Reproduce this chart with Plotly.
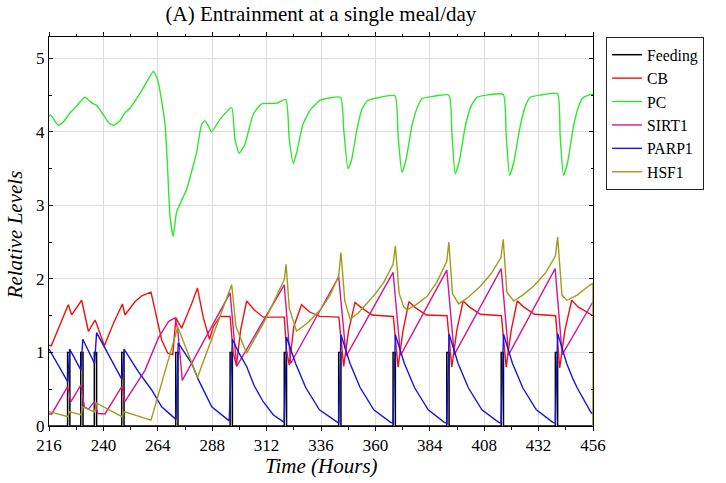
import plotly.graph_objects as go

# ---------------- data ----------------
feed_start = [224.2, 230.0, 236.0, 248.1, 271.9, 295.9, 319.8, 343.8, 367.8, 391.5, 415.5, 439.4]
feed_end = [225.2, 231.0, 237.0, 249.1, 272.9, 296.9, 320.8, 344.8, 368.8, 392.5, 416.5, 440.4]
feed_level = 1.0
t_begin, t_stop = 216, 456

cb_t = [216, 217, 224.5, 226.0, 230.4, 233.4, 236.3, 237.0, 240.4, 244.5, 248.4, 249.5, 253.9, 256.9,
        261.0, 263.5, 265.7, 268.4, 270.6, 272.0, 274.5, 279.0, 281.5, 284.1, 286.8, 288.5, 291.5,
        295.9, 297.3, 298.7, 300.5, 303.2, 306.5, 310.5, 319.8, 320.8, 322.0, 324.0, 327.4, 331.0,
        335.5, 343.9, 346.0, 348.2, 351.0, 353.8, 358.5, 367.9, 370.0, 372.2, 374.8, 377.6, 382.5,
        391.6, 393.7, 395.9, 398.7, 401.4, 406.3, 415.6, 417.7, 419.9, 422.6, 425.4, 430.2, 439.5,
        441.3, 443.6, 446.6, 449.4, 454.5, 456.0]
cb_v = [1.10, 1.09, 1.65, 1.51, 1.71, 1.285, 1.44, 1.39, 1.09, 1.40, 1.66, 1.51, 1.69, 1.77,
        1.82, 1.49, 1.17, 0.99, 0.97, 1.47, 1.33, 1.67, 1.875, 1.47, 1.18, 1.35, 1.49,
        1.49, 0.99, 0.82, 1.30, 1.70, 1.58, 1.48, 1.48, 1.02, 0.83, 1.35, 1.65, 1.55,
        1.49, 1.48, 0.81, 1.30, 1.68, 1.61, 1.51, 1.49, 0.80, 1.30, 1.69, 1.61, 1.51,
        1.50, 0.80, 1.30, 1.70, 1.62, 1.52, 1.50, 0.80, 1.30, 1.70, 1.62, 1.52, 1.50,
        0.79, 1.30, 1.71, 1.62, 1.52, 1.50]

pc_t = [216, 216.7, 220.1, 222.5, 225.3, 226.7, 229.5, 231.9, 233.5, 235.6, 237.0, 240.7, 242.5,
        244.4, 247.3, 249.5, 251.7, 256.9, 262.0, 263.0, 264.2, 265.7, 267.2, 268.2, 269.4, 270.8,
        272.3, 276.7, 281.1, 283.3, 284.8, 286.0, 287.7, 291.4, 296.6, 298.0, 299.9, 302.4, 306.1,
        309.8, 316.4, 320.5, 322.0, 323.8, 325.5, 328.0, 331.3, 335.7, 344.6, 346.0, 347.9, 349.5,
        351.9, 354.0, 356.3, 360.7, 368.6, 370.0, 371.7, 373.5, 376.1, 378.5, 380.5, 385.0, 392.4,
        393.8, 395.2, 397.0, 399.7, 402.2, 404.8, 409.2, 416.4, 417.7, 419.2, 421.0, 423.9, 426.2,
        428.3, 432.7, 440.3, 441.5, 443.0, 444.8, 447.4, 449.5, 451.1, 454.0, 456.0, 456.0]
pc_v = [4.21, 4.23, 4.09, 4.14, 4.26, 4.30, 4.40, 4.47, 4.43, 4.38, 4.36, 4.20, 4.12,
        4.09, 4.15, 4.26, 4.32, 4.56, 4.82, 4.78, 4.68, 4.42, 4.10, 3.58, 2.85, 2.58,
        2.91, 3.22, 3.72, 4.10, 4.15, 4.10, 4.00, 4.17, 4.33, 3.90, 3.71, 3.83, 4.24,
        4.38, 4.39, 4.44, 3.90, 3.57, 3.75, 4.10, 4.30, 4.43, 4.47, 4.04, 3.50, 3.62,
        4.04, 4.30, 4.42, 4.46, 4.49, 3.95, 3.45, 3.62, 4.08, 4.33, 4.45, 4.48, 4.50,
        3.95, 3.43, 3.60, 4.08, 4.35, 4.47, 4.50, 4.51, 3.95, 3.41, 3.58, 4.08, 4.35,
        4.47, 4.50, 4.52, 3.95, 3.41, 3.58, 4.08, 4.33, 4.45, 4.50, 4.51, 0.0]

sirt_t = [216, 217.2, 224.2, 225.7, 230.1, 231.6, 233.4, 236.0, 237.5, 240.7, 248.1, 249.5, 258.4,
          264.2, 268.7, 271.6, 272.8, 274.8, 295.9, 298.8, 319.8, 322.6, 343.8, 347.1, 367.8, 371.1,
          391.5, 394.8, 415.5, 418.8, 439.3, 442.4, 456.0]
sirt_v = [0.164, 0.164, 0.536, 0.33, 0.56, 0.26, 0.23, 0.33, 0.17, 0.164, 0.536, 0.33, 0.76,
          1.195, 1.42, 1.47, 1.31, 0.62, 1.81, 0.81, 1.92, 0.85, 2.03, 0.95, 2.09, 0.96,
          2.12, 0.97, 2.14, 0.97, 2.14, 0.97, 1.69]

parp_t = [216, 224.3, 225.1, 230.1, 230.9, 236.1, 237.0, 248.2, 249.1, 255.4, 261.3, 265.7, 272.0,
          273.0, 279.0, 281.9, 287.8, 295.5, 296.9, 300.0, 303.2, 306.5, 310.5, 315.0, 319.8, 320.8,
          324.8, 329.3, 335.3, 342.5, 343.8, 344.8, 348.8, 353.3, 359.3, 366.7, 367.8, 368.8, 372.8,
          377.3, 383.3, 390.4, 391.5, 392.5, 396.5, 401.0, 407.0, 414.4, 415.5, 416.5, 420.5, 425.0,
          431.0, 438.3, 439.4, 440.4, 444.4, 447.3, 449.0, 455.0, 456.0]
parp_v = [1.045, 0.60, 1.045, 0.76, 1.18, 0.85, 1.27, 0.63, 1.045, 0.74, 0.49, 0.26, 0.09,
          1.13, 0.85, 0.63, 0.26, 0.07, 1.18, 0.98, 0.81, 0.55, 0.33, 0.15, 0.05, 1.21,
          0.85, 0.52, 0.22, 0.06, 0.04, 1.24, 0.85, 0.52, 0.22, 0.05, 0.04, 1.24, 0.85,
          0.52, 0.22, 0.05, 0.04, 1.25, 0.85, 0.52, 0.22, 0.05, 0.04, 1.25, 0.85, 0.52,
          0.22, 0.05, 0.04, 1.26, 0.85, 0.63, 0.52, 0.19, 0.16]

hsf_t = [216, 224.3, 225.1, 230.1, 230.9, 236.1, 237.0, 248.2, 249.1, 261.0, 272.8, 281.5, 296.6,
         298.5, 303.2, 311.5, 319.8, 320.6, 322.0, 325.2, 330.0, 335.7, 340.0, 343.8, 344.8, 346.5,
         348.9, 352.5, 356.3, 360.0, 363.6, 367.8, 368.8, 370.5, 372.5, 374.0, 378.0, 382.7, 387.0,
         391.5, 392.4, 394.0, 396.7, 401.0, 406.3, 411.0, 415.4, 416.4, 418.0, 421.0, 425.0, 429.8,
         435.0, 439.4, 440.4, 442.3, 444.5, 449.0, 454.8, 456.0, 456.0]
hsf_v = [0.196, 0.127, 0.196, 0.15, 0.26, 0.19, 0.31, 0.127, 0.196, 0.08, 1.345, 0.66, 1.92,
         1.35, 0.99, 1.45, 1.99, 2.20, 1.60, 1.29, 1.40, 1.58, 1.78, 2.04, 2.36, 1.70,
         1.45, 1.54, 1.67, 1.80, 1.95, 2.20, 2.45, 1.80, 1.62, 1.58, 1.65, 1.76, 1.95,
         2.24, 2.50, 1.80, 1.66, 1.75, 1.90, 2.07, 2.29, 2.54, 1.82, 1.70, 1.78, 1.90,
         2.08, 2.31, 2.57, 1.78, 1.71, 1.78, 1.92, 1.94, 0.0]

x_ticks = [216, 240, 264, 288, 312, 336, 360, 384, 408, 432, 456]
y_ticks = [0, 1, 2, 3, 4, 5]

# feeding step series built from the pulse lists
feed_t = [t_begin]
feed_v = [0.0]
for s, e in zip(feed_start, feed_end):
    feed_t += [s, s, e, e]
    feed_v += [0.0, feed_level, feed_level, 0.0]
feed_t.append(t_stop)
feed_v.append(0.0)

FONT = "Liberation Serif"

fig = go.Figure()
series = [
    ("Feeding", feed_t, feed_v, "#000000", 1.5, "linear"),
    ("CB", cb_t, cb_v, "#ee1111", 1.4, "linear"),
    ("PC", pc_t, pc_v, "#2ee82e", 1.4, "spline"),
    ("SIRT1", sirt_t, sirt_v, "#d6168f", 1.4, "linear"),
    ("PARP1", parp_t, parp_v, "#1515dd", 1.4, "linear"),
    ("HSF1", hsf_t, hsf_v, "#a39a1a", 1.4, "linear"),
]
for name, xs, ys, col, w, shape in series:
    line = dict(color=col, width=w, shape=shape)
    if shape == "spline":
        line["smoothing"] = 0.5
    fig.add_trace(go.Scatter(x=xs, y=ys, mode="lines", name=name, legendgroup=name,
                             line=line, cliponaxis=True))

fig.update_layout(
    width=726, height=483,
    margin=dict(l=49, r=133, t=37, b=57, autoexpand=False),
    paper_bgcolor="white", plot_bgcolor="white",
    font=dict(family=FONT, size=17, color="black"),
    title=dict(text="(A) Entrainment at a single meal/day", x=0.442, xanchor="center",
               y=0.972, yanchor="middle", yref="container",
               font=dict(family=FONT, size=21, color="black")),
    legend=dict(x=1.024, xanchor="left", y=1.0, yanchor="top",
                bordercolor="#222222", borderwidth=1, bgcolor="white",
                font=dict(family=FONT, size=15.7, color="black"),
                itemwidth=30, tracegroupgap=0),
    showlegend=True,
    annotations=[
        dict(text="<i>Time (Hours)</i>", xref="paper", yref="paper", x=0.5, y=-0.103,
             xanchor="center", yanchor="middle", showarrow=False,
             font=dict(family=FONT, size=21, color="black")),
        dict(text="<i>Relative Levels</i>", xref="paper", yref="paper", x=-0.0625, y=0.49,
             xanchor="center", yanchor="middle", textangle=-90, showarrow=False,
             font=dict(family=FONT, size=21, color="black")),
    ],
)
fig.update_xaxes(
    range=[t_begin, t_stop], tickvals=x_ticks, ticktext=[str(v) for v in x_ticks],
    showgrid=True, gridcolor="#dcdcdc", gridwidth=1, automargin=False,
    showline=True, linecolor="black", linewidth=1, mirror="ticks",
    ticks="outside", ticklen=4, tickcolor="black",
    minor=dict(dtick=12, tick0=216, ticks="outside", ticklen=2.5, tickcolor="black", showgrid=False),
    zeroline=False,
    tickfont=dict(family=FONT, size=17),
)
fig.update_yaxes(
    range=[0, 5.29], tickvals=y_ticks,
    showgrid=True, gridcolor="#dcdcdc", gridwidth=1, automargin=False,
    showline=True, linecolor="black", linewidth=1, mirror="ticks",
    ticks="inside", ticklen=4, tickcolor="black",
    minor=dict(dtick=0.5, ticks="inside", ticklen=2.5, tickcolor="black", showgrid=False),
    zeroline=False,
    tickfont=dict(family=FONT, size=17),
)

fig.write_html("out.html", config={"displayModeBar": False},
               post_script="document.body.style.margin='0px';")
